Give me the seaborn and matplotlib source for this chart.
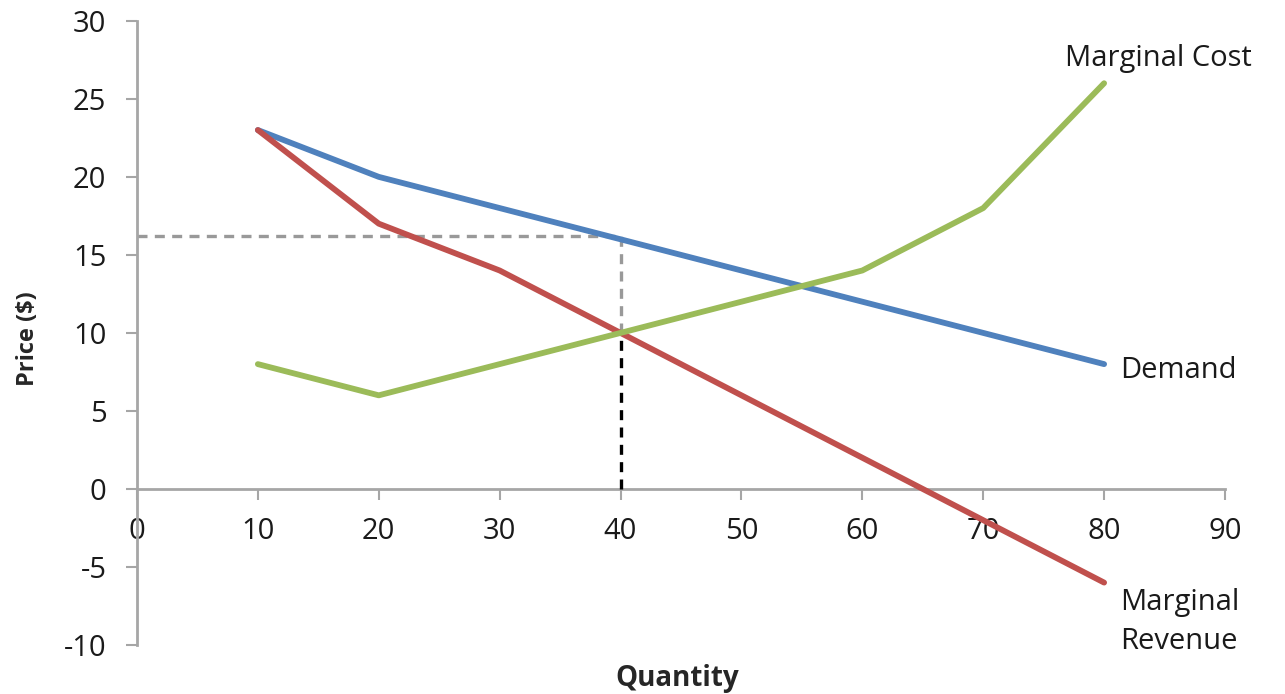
import numpy as np
import pandas as pd
import matplotlib
matplotlib.use("Agg")
import matplotlib.pyplot as plt
import seaborn as sns

# data
quantity = [10, 20, 30, 40, 50, 60, 70, 80]
demand = [23, 20, 18, 16, 14, 12, 10, 8]
marginal_revenue = [23, 17, 14, 10, 6, 2, -2, -6]
marginal_cost = [8, 6, 8, 10, 12, 14, 18, 26]

# profit-maximising point (MR = MC) and its price on demand
q_star = 40
mc_star = 10
p_star = 16.2

x_ticks = list(range(0, 100, 10))
y_ticks = list(range(-10, 35, 5))

df = pd.DataFrame({
    "Quantity": quantity * 3,
    "Price": demand + marginal_revenue + marginal_cost,
    "curve": ["Demand"] * 8 + ["Marginal Revenue"] * 8 + ["Marginal Cost"] * 8,
})

sns.set_style("white")
plt.rcParams["font.family"] = ["Open Sans", "DejaVu Sans"]
plt.rcParams["axes.unicode_minus"] = False

fig = plt.figure(figsize=(12.85, 6.94), dpi=100)
ax = fig.add_axes([0.1066, 0.0706, 0.8467, 0.8994])

colors = {"Demand": "#4F81BD", "Marginal Revenue": "#C0504D", "Marginal Cost": "#9BBB59"}
sns.lineplot(data=df, x="Quantity", y="Price", hue="curve", palette=colors,
             linewidth=4.2, legend=False, ax=ax, zorder=3)

# dashed guide lines
ax.plot([0, q_star], [p_star, p_star], ls=(0, (3, 2.2)), color="#999999", lw=2.4, zorder=2)
ax.plot([q_star, q_star], [mc_star, p_star], ls=(0, (3, 2.2)), color="#999999", lw=2.4, zorder=2)
ax.plot([q_star, q_star], [0, mc_star], ls=(0, (3, 2.2)), color="black", lw=2.4, zorder=4)

ax.set_xlim(0, 90)
ax.set_ylim(-10, 30)
ax.set_xticks(x_ticks)
ax.set_yticks(y_ticks)

for s in ["top", "right"]:
    ax.spines[s].set_visible(False)
ax.spines["bottom"].set_position(("data", 0))
for s in ["left", "bottom"]:
    ax.spines[s].set_color("#A6A6A6")
    ax.spines[s].set_linewidth(2)

ax.tick_params(axis="both", which="both", length=8, width=1.5, color="#A6A6A6",
               labelsize=21, labelcolor="#1a1a1a", left=True, bottom=True)
ax.tick_params(axis="x", direction="out", pad=12)
ax.tick_params(axis="y", direction="out", pad=14)

ax.set_xlabel("")
ax.set_ylabel("")
fig.text(0.527, 0.022, "Quantity", ha="center", va="center", fontsize=20, fontweight="bold")
fig.text(0.022, 0.512, "Price ($)", ha="center", va="center", rotation=90,
         fontsize=17, fontweight="bold")

ax.text(76.8, 27.6, "Marginal Cost", fontsize=21, va="center", ha="left", color="#1a1a1a")
ax.text(81.3, 7.6, "Demand", fontsize=21, va="center", ha="left", color="#1a1a1a")
ax.text(81.3, -8.5, "Marginal\nRevenue", fontsize=21, va="center", ha="left",
        color="#1a1a1a", linespacing=1.45)

fig.savefig("out.png", dpi=100)
